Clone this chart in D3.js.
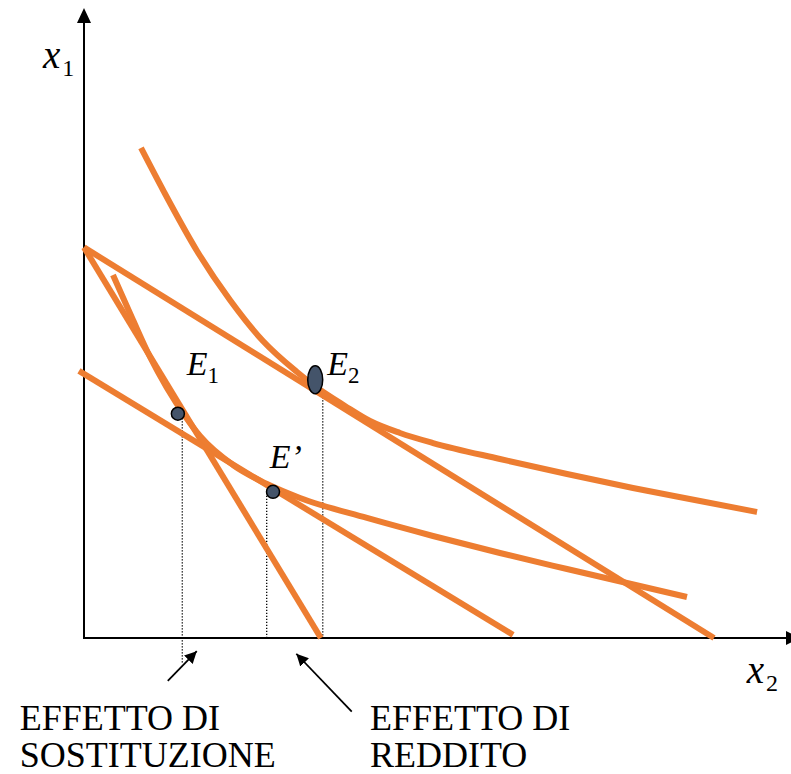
<!DOCTYPE html>
<html>
<head>
<meta charset="utf-8">
<script src="https://cdn.jsdelivr.net/npm/d3@7"></script>
<style>
  html, body { margin: 0; padding: 0; background: #fff; }
  svg { display: block; }
  text { font-family: "Liberation Serif", "Times New Roman", serif; fill: #000; }
</style>
</head>
<body>
<svg id="chart" width="791" height="774"></svg>
<script>
// ---- data (units of x2 / x1) ----
const budgetLine1 = [[0, 6.2], [3.76, 0]];          // original budget line
const budgetLine2 = [[0, 6.2], [10, 0]];            // after price change
const budgetLine3 = [[-0.08, 4.24], [6.81, 0.05]];  // compensated budget line
const indifferenceUpper = [
  [0.905, 7.778], [1.254, 7.111], [1.794, 6.143], [2.317, 5.365], [2.841, 4.714],
  [3.381, 4.222], [3.683, 3.984], [4.143, 3.683], [4.540, 3.444], [5.016, 3.254],
  [5.540, 3.095], [6.603, 2.841], [7.667, 2.603], [8.714, 2.381], [9.778, 2.175],
  [10.683, 2.0]
];
const indifferenceLower = [
  [0.460, 5.762], [0.778, 5.048], [1.048, 4.460], [1.317, 3.968], [1.603, 3.524],
  [1.841, 3.206], [2.365, 2.746], [2.905, 2.444], [3.429, 2.222], [4.492, 1.905],
  [5.540, 1.619], [6.603, 1.349], [7.667, 1.095], [9.571, 0.651]
];
const equilibria = [
  { name: "E1", x: 1.49, y: 3.56, rx: 6.5, ry: 6.5 },
  { name: "E2", x: 3.67, y: 4.10, rx: 7.5, ry: 14 },
  { name: "E'", x: 3.00, y: 2.32, rx: 6.5, ry: 6.5 }
];
const dropLines = [
  { x: 1.56, y0: 3.49, y1: -0.41 },
  { x: 2.90, y0: 2.40, y1: 0 },
  { x: 3.79, y0: 3.87, y1: 0 }
];
const pointLabels = [
  { main: "E", sub: "1", x: 1.63, y: 4.17 },
  { main: "E", sub: "2", x: 3.86, y: 4.17 },
  { main: "E\u2019", sub: "", x: 2.95, y: 2.70 }
];
const axisLabels = [
  { main: "x", sub: "1", x: -0.65, y: 9.05 },
  { main: "x", sub: "2", x: 10.52, y: -0.71 }
];
const arrows = [
  { from: [1.33, -0.68], to: [1.79, -0.21] },
  { from: [4.25, -1.17], to: [3.37, -0.25] }
];
const effectLabels = [
  { lines: ["EFFETTO DI", "SOSTITUZIONE"], x: -1.02, y: -1.46 },
  { lines: ["EFFETTO DI", "REDDITO"], x: 4.54, y: -1.46 }
];

// ---- scales ----
const x = d3.scaleLinear().domain([0, 10]).range([84, 714]);
const y = d3.scaleLinear().domain([0, 10]).range([638, 8]);

const svg = d3.select("#chart");
const orange = "#ED7D31";

svg.append("defs").append("marker")
  .attr("id", "ah").attr("viewBox", "0 0 10 10")
  .attr("refX", 10).attr("refY", 5)
  .attr("markerWidth", 12).attr("markerHeight", 12)
  .attr("markerUnits", "userSpaceOnUse")
  .attr("orient", "auto")
  .append("path").attr("d", "M0,0 L10,5 L0,10 Z").attr("fill", "#000");

// axes
const x0 = x(0), y0 = y(0);
svg.append("line").attr("x1", x0).attr("y1", y0).attr("x2", x0).attr("y2", 22)
  .attr("stroke", "#000").attr("stroke-width", 2);
svg.append("path").attr("d", `M${x0},8 L${x0 - 7},23 L${x0 + 7},23 Z`).attr("fill", "#000");
svg.append("line").attr("x1", x0 - 1).attr("y1", y0).attr("x2", 790).attr("y2", y0)
  .attr("stroke", "#000").attr("stroke-width", 2);
svg.append("path").attr("d", `M800,${y0} L786,${y0 - 7} L786,${y0 + 7} Z`).attr("fill", "#000");

// drop lines
svg.selectAll(".drop").data(dropLines).join("line")
  .attr("x1", d => x(d.x)).attr("x2", d => x(d.x))
  .attr("y1", d => y(d.y0)).attr("y2", d => y(d.y1))
  .attr("stroke", "#000").attr("stroke-width", 1.3).attr("stroke-dasharray", "1.3,1.7");

// budget lines
const straight = d3.line().x(d => x(d[0])).y(d => y(d[1]));
[budgetLine1, budgetLine2, budgetLine3].forEach(bl => {
  svg.append("path").attr("d", straight(bl)).attr("fill", "none")
    .attr("stroke", orange).attr("stroke-width", 6).attr("stroke-linecap", "butt");
});

// indifference curves
const smooth = d3.line().x(d => x(d[0])).y(d => y(d[1])).curve(d3.curveMonotoneX);
[indifferenceUpper, indifferenceLower].forEach(c => {
  svg.append("path").attr("d", smooth(c)).attr("fill", "none")
    .attr("stroke", orange).attr("stroke-width", 6).attr("stroke-linecap", "butt");
});

// equilibria
svg.selectAll(".eq").data(equilibria).join("ellipse")
  .attr("cx", d => x(d.x)).attr("cy", d => y(d.y))
  .attr("rx", d => d.rx).attr("ry", d => d.ry)
  .attr("fill", "#44546A").attr("stroke", "#000").attr("stroke-width", 1.5);

// point labels
function subLabel(d, size, subSize, dy, dx) {
  const t = svg.append("text").attr("x", x(d.x)).attr("y", y(d.y))
    .attr("font-style", "italic").attr("font-size", size);
  t.append("tspan").text(d.main);
  if (d.sub) {
    t.append("tspan").attr("dx", dx).attr("dy", dy).attr("font-style", "normal")
      .attr("font-size", subSize).text(d.sub);
  }
}
pointLabels.forEach(d => subLabel(d, 34, 23, 8, 0));
axisLabels.forEach(d => subLabel(d, 39, 24, 8, 2));

// arrows
svg.selectAll(".arr").data(arrows).join("line")
  .attr("x1", d => x(d.from[0])).attr("y1", d => y(d.from[1]))
  .attr("x2", d => x(d.to[0])).attr("y2", d => y(d.to[1]))
  .attr("stroke", "#000").attr("stroke-width", 1.8).attr("marker-end", "url(#ah)");

// effect labels
effectLabels.forEach(d => {
  const t = svg.append("text").attr("font-size", 36);
  d.lines.forEach((l, i) => {
    t.append("tspan").attr("x", x(d.x)).attr("y", y(d.y) + i * 37).text(l);
  });
});
</script>
</body>
</html>
